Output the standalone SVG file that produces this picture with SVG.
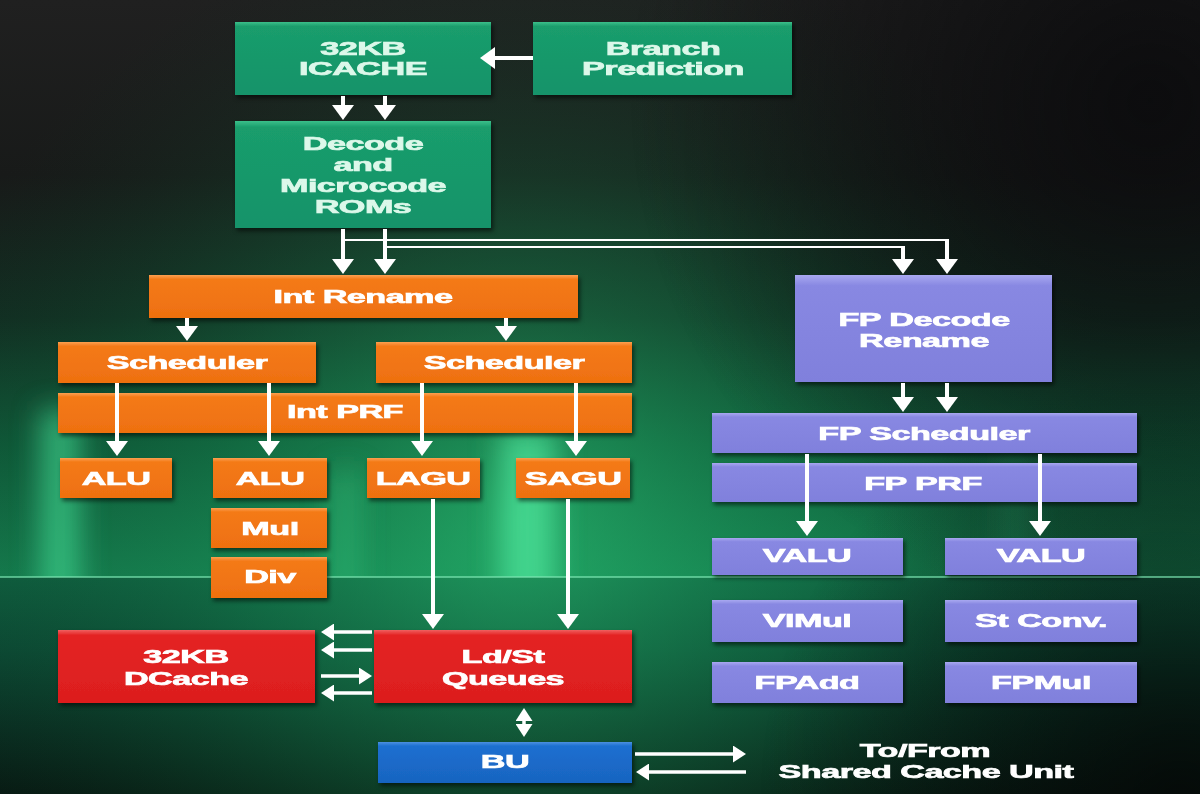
<svg xmlns="http://www.w3.org/2000/svg" width="1200" height="794" viewBox="0 0 1200 794">
<defs>
  <linearGradient id="bgV" x1="0" y1="0" x2="0" y2="1">
    <stop offset="0" stop-color="#202020"/>
    <stop offset="0.22" stop-color="#181a19"/>
    <stop offset="0.40" stop-color="#122e22"/>
    <stop offset="0.56" stop-color="#0f5838"/>
    <stop offset="0.726" stop-color="#157c4e"/>
    <stop offset="0.727" stop-color="#0f5c3e"/>
    <stop offset="0.82" stop-color="#0c4833"/>
    <stop offset="0.92" stop-color="#0a2d21"/>
    <stop offset="1" stop-color="#081a13"/>
  </linearGradient>
  <radialGradient id="glow" cx="520" cy="520" r="620" gradientUnits="userSpaceOnUse">
    <stop offset="0" stop-color="#2fd07c" stop-opacity="0.55"/>
    <stop offset="0.45" stop-color="#1a9a5a" stop-opacity="0.3"/>
    <stop offset="1" stop-color="#0a3a22" stop-opacity="0"/>
  </radialGradient>
  <radialGradient id="darkTR" cx="1150" cy="100" r="520" gradientUnits="userSpaceOnUse">
    <stop offset="0" stop-color="#0b0b0d" stop-opacity="0.9"/>
    <stop offset="1" stop-color="#0b0b0d" stop-opacity="0"/>
  </radialGradient>
  <radialGradient id="darkBR" cx="1180" cy="794" r="420" gradientUnits="userSpaceOnUse">
    <stop offset="0" stop-color="#050807" stop-opacity="0.85"/>
    <stop offset="1" stop-color="#050807" stop-opacity="0"/>
  </radialGradient>
  <filter id="blur" x="-50%" y="-20%" width="200%" height="140%">
    <feGaussianBlur stdDeviation="14"/>
  </filter>
  <clipPath id="upper"><rect x="0" y="0" width="1200" height="577"/></clipPath>
  <filter id="shadow" x="-10%" y="-20%" width="120%" height="150%">
    <feDropShadow dx="2" dy="3" stdDeviation="2" flood-color="#000" flood-opacity="0.55"/>
  </filter>
  <linearGradient id="gG" x1="0" y1="0" x2="0" y2="1">
    <stop offset="0" stop-color="#3bbf8a"/>
    <stop offset="0.06" stop-color="#1a9d6c"/>
    <stop offset="1" stop-color="#14936a"/>
  </linearGradient>
  <linearGradient id="gO" x1="0" y1="0" x2="0" y2="1">
    <stop offset="0" stop-color="#fba050"/>
    <stop offset="0.1" stop-color="#f47a18"/>
    <stop offset="1" stop-color="#ee7010"/>
  </linearGradient>
  <linearGradient id="gR" x1="0" y1="0" x2="0" y2="1">
    <stop offset="0" stop-color="#f06060"/>
    <stop offset="0.07" stop-color="#e42424"/>
    <stop offset="1" stop-color="#dc1e1e"/>
  </linearGradient>
  <linearGradient id="gB" x1="0" y1="0" x2="0" y2="1">
    <stop offset="0" stop-color="#4a90e0"/>
    <stop offset="0.1" stop-color="#1d6fd0"/>
    <stop offset="1" stop-color="#1864c0"/>
  </linearGradient>
  <linearGradient id="gP" x1="0" y1="0" x2="0" y2="1">
    <stop offset="0" stop-color="#a8a8f0"/>
    <stop offset="0.1" stop-color="#8888e2"/>
    <stop offset="1" stop-color="#8080dc"/>
  </linearGradient>
  <marker id="ah" viewBox="0 0 15 22" refX="11" refY="11" markerWidth="15" markerHeight="22" markerUnits="userSpaceOnUse" orient="auto-start-reverse">
    <path d="M0,0 L15,11 L0,22 z" fill="#ffffff"/>
  </marker>
  <marker id="ahs" viewBox="0 0 13 17" refX="9" refY="8.5" markerWidth="13" markerHeight="17" markerUnits="userSpaceOnUse" orient="auto-start-reverse">
    <path d="M0,0 L13,8.5 L0,17 z" fill="#ffffff"/>
  </marker>
  <style>
    .box { filter:url(#shadow); }
    .g { fill:url(#gG); }
    .o { fill:url(#gO); }
    .r { fill:url(#gR); }
    .b { fill:url(#gB); }
    .p { fill:url(#gP); }
    text { font-family:"Liberation Sans", Arial, sans-serif; font-weight:bold; font-size:19px; fill:#ffffff; stroke:#ffffff; stroke-width:0.7; letter-spacing:-0.3px; text-anchor:middle; }
    .tg { fill:#dcf8ea; stroke:#dcf8ea; }
    .c { fill:none; stroke:#ffffff; stroke-width:4; marker-end:url(#ah); }
    .cs { fill:none; stroke:#ffffff; stroke-width:3.5; marker-end:url(#ahs); }
    .thin { fill:none; stroke:#ffffff; stroke-width:2; }
  </style>
</defs>

<!-- background -->
<rect x="0" y="0" width="1200" height="794" fill="url(#bgV)"/>
<rect x="0" y="0" width="1200" height="794" fill="url(#glow)"/>
<g clip-path="url(#upper)" filter="url(#blur)">
  <rect x="40" y="410" width="40" height="210" fill="#45e29a" opacity="0.6"/>
  <rect x="500" y="430" width="55" height="190" fill="#55f0a5" opacity="0.65"/>
  <rect x="330" y="470" width="30" height="150" fill="#3fd08a" opacity="0.35"/>
  <rect x="1000" y="450" width="30" height="170" fill="#3fd08a" opacity="0.25"/>
</g>
<rect x="0" y="0" width="1200" height="794" fill="url(#darkTR)"/>
<rect x="0" y="0" width="1200" height="794" fill="url(#darkBR)"/>
<line x1="0" y1="577" x2="1200" y2="577" stroke="#7be6b2" stroke-width="1.5" opacity="0.85"/>

<!-- nodes -->
<g id="icache"><rect class="box g" x="235" y="22" width="256" height="73"/>
  <text class="tg" transform="translate(363,55) scale(1.8,1)">32KB</text>
  <text class="tg" transform="translate(363,75) scale(1.8,1)">ICACHE</text></g>
<g id="branch"><rect class="box g" x="533" y="22" width="259" height="73"/>
  <text class="tg" transform="translate(663,55) scale(1.8,1)">Branch</text>
  <text class="tg" transform="translate(663,75) scale(1.8,1)">Prediction</text></g>
<g id="decode"><rect class="box g" x="235" y="121" width="256" height="107"/>
  <text class="tg" transform="translate(363,150) scale(1.8,1)">Decode</text>
  <text class="tg" transform="translate(363,171) scale(1.8,1)">and</text>
  <text class="tg" transform="translate(363,192) scale(1.8,1)">Microcode</text>
  <text class="tg" transform="translate(363,213) scale(1.8,1)">ROMs</text></g>

<g id="int-rename"><rect class="box o" x="149" y="275" width="429" height="43"/>
  <text transform="translate(363,303) scale(1.8,1)">Int Rename</text></g>
<g id="sched-left"><rect class="box o" x="58" y="342" width="258" height="41"/>
  <text transform="translate(187,369) scale(1.8,1)">Scheduler</text></g>
<g id="sched-right"><rect class="box o" x="376" y="342" width="256" height="41"/>
  <text transform="translate(504,369) scale(1.8,1)">Scheduler</text></g>
<g id="int-prf"><rect class="box o" x="58" y="393" width="574" height="40"/>
  <text transform="translate(345,418) scale(1.8,1)">Int PRF</text></g>
<g id="alu1"><rect class="box o" x="60" y="458" width="112" height="40"/>
  <text transform="translate(116,485) scale(1.8,1)">ALU</text></g>
<g id="alu2"><rect class="box o" x="213" y="458" width="114" height="40"/>
  <text transform="translate(270,485) scale(1.8,1)">ALU</text></g>
<g id="lagu"><rect class="box o" x="367" y="458" width="113" height="40"/>
  <text transform="translate(423,485) scale(1.8,1)">LAGU</text></g>
<g id="sagu"><rect class="box o" x="516" y="458" width="114" height="40"/>
  <text transform="translate(573,485) scale(1.8,1)">SAGU</text></g>
<g id="mul"><rect class="box o" x="211" y="508" width="116" height="40"/>
  <text transform="translate(270,535) scale(1.8,1)">Mul</text></g>
<g id="div"><rect class="box o" x="211" y="557" width="116" height="41"/>
  <text transform="translate(270,583) scale(1.8,1)">Div</text></g>

<g id="dcache"><rect class="box r" x="58" y="630" width="257" height="73"/>
  <text transform="translate(186,663) scale(1.8,1)">32KB</text>
  <text transform="translate(186,685) scale(1.8,1)">DCache</text></g>
<g id="ldst"><rect class="box r" x="374" y="630" width="258" height="73"/>
  <text transform="translate(503,663) scale(1.8,1)">Ld/St</text>
  <text transform="translate(503,685) scale(1.8,1)">Queues</text></g>
<g id="bu"><rect class="box b" x="378" y="742" width="254" height="41"/>
  <text transform="translate(505,768) scale(1.8,1)">BU</text></g>
<g id="shared-cache-label">
  <text transform="translate(925,757) scale(1.8,1)">To/From</text>
  <text transform="translate(926,778) scale(1.8,1)">Shared Cache Unit</text></g>

<g id="fp-decode"><rect class="box p" x="795" y="275" width="257" height="107"/>
  <text transform="translate(924,326) scale(1.8,1)">FP Decode</text>
  <text transform="translate(924,347) scale(1.8,1)">Rename</text></g>
<g id="fp-sched"><rect class="box p" x="712" y="413" width="425" height="40"/>
  <text transform="translate(924,440) scale(1.8,1)">FP Scheduler</text></g>
<g id="fp-prf"><rect class="box p" x="712" y="463" width="425" height="39"/>
  <text transform="translate(923,490) scale(1.8,1)">FP PRF</text></g>
<g id="valu1"><rect class="box p" x="712" y="538" width="191" height="37"/>
  <text transform="translate(807,562) scale(1.8,1)">VALU</text></g>
<g id="valu2"><rect class="box p" x="945" y="538" width="192" height="37"/>
  <text transform="translate(1041,562) scale(1.8,1)">VALU</text></g>
<g id="vimul"><rect class="box p" x="712" y="600" width="191" height="42"/>
  <text transform="translate(807,627) scale(1.8,1)">VIMul</text></g>
<g id="stconv"><rect class="box p" x="945" y="600" width="192" height="42"/>
  <text transform="translate(1041,627) scale(1.8,1)">St Conv.</text></g>
<g id="fpadd"><rect class="box p" x="712" y="662" width="191" height="41"/>
  <text transform="translate(807,689) scale(1.8,1)">FPAdd</text></g>
<g id="fpmul"><rect class="box p" x="945" y="662" width="192" height="41"/>
  <text transform="translate(1041,689) scale(1.8,1)">FPMul</text></g>

<!-- connectors -->
<g id="connectors">
  <path class="c" d="M533,58 H484"/>
  <path class="c" d="M343,96 V116"/>
  <path class="c" d="M385,96 V116"/>
  <path class="c" d="M343,229 V270"/>
  <path class="c" d="M385,229 V270"/>
  <path class="thin" d="M343,240 H947"/>
  <path class="thin" d="M385,247 H903"/>
  <path class="c" d="M947,239 V270"/>
  <path class="c" d="M903,246 V270"/>
  <path class="c" d="M187,318 V337"/>
  <path class="c" d="M506,318 V337"/>
  <path class="c" d="M117,383 V452"/>
  <path class="c" d="M269,383 V452"/>
  <path class="c" d="M422,383 V452"/>
  <path class="c" d="M576,383 V452"/>
  <path class="c" d="M433,499 V625"/>
  <path class="c" d="M568,499 V625"/>
  <path class="cs" d="M372,632 H325"/>
  <path class="cs" d="M372,650 H325"/>
  <path class="cs" d="M321,676 H368"/>
  <path class="cs" d="M372,693 H325"/>
  <path class="cs" d="M524,712 V733" marker-start="url(#ahs)"/>
  <path class="cs" d="M635,754 H742"/>
  <path class="cs" d="M746,772 H640"/>
  <path class="c" d="M903,383 V408"/>
  <path class="c" d="M947,383 V408"/>
  <path class="c" d="M807,454 V532"/>
  <path class="c" d="M1040,454 V532"/>
</g>
</svg>
